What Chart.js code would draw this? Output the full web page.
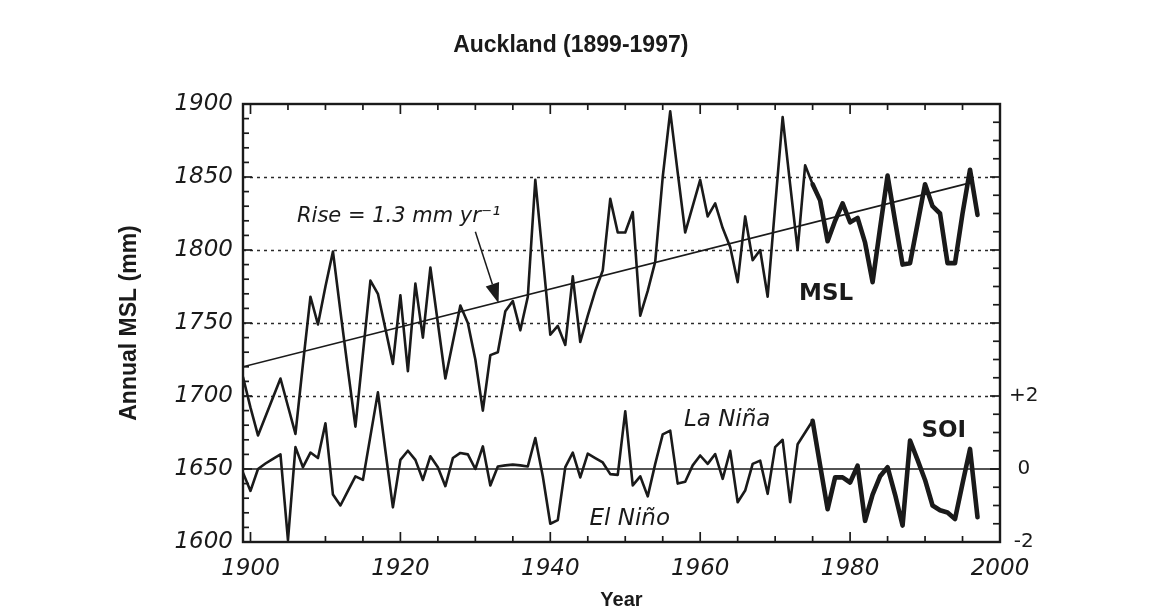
<!DOCTYPE html>
<html>
<head>
<meta charset="utf-8">
<script src="https://cdn.jsdelivr.net/npm/chart.js@4.4.1/dist/chart.umd.min.js"></script>
<style>
  html, body { margin: 0; padding: 0; background: #ffffff; }
  #wrap { width: 1175px; height: 612px; position: relative; }
</style>
</head>
<body>
<div id="wrap"><canvas id="c" width="1175" height="612"></canvas></div>
<script>
// ---------------- data ----------------
const years = [1899,1900,1901,1902,1903,1904,1905,1906,1907,1908,1909,
  1910,1911,1912,1913,1914,1915,1916,1917,1918,1919,
  1920,1921,1922,1923,1924,1925,1926,1927,1928,1929,
  1930,1931,1932,1933,1934,1935,1936,1937,1938,1939,
  1940,1941,1942,1943,1944,1945,1946,1947,1948,1949,
  1950,1951,1952,1953,1954,1955,1956,1957,1958,1959,
  1960,1961,1962,1963,1964,1965,1966,1967,1968,1969,
  1970,1971,1972,1973,1974,1975,1976,1977,1978,1979,
  1980,1981,1982,1983,1984,1985,1986,1987,1988,1989,
  1990,1991,1992,1993,1994,1995,1996,1997];

// Annual mean sea level (mm)
const mslValues = [1713,1692,1673,1686,1699,1712,1693,1674,1722,1768,1749,
  1775,1799,1758,1718,1679,1729,1779,1770,1746,1722,
  1769,1717,1777,1740,1788,1750,1712,1737,1762,1750,
  1725,1690,1728,1730,1758,1765,1745,1768,1848,1795,
  1742,1748,1735,1782,1737,1755,1772,1786,1835,1812,
  1812,1826,1755,1772,1792,1850,1895,1853,1812,1830,
  1848,1823,1832,1815,1802,1778,1823,1793,1800,1768,
  1830,1891,1845,1800,1858,1845,1834,1806,1820,1832,
  1819,1822,1805,1778,1815,1851,1820,1790,1791,1818,
  1845,1830,1825,1791,1791,1825,1855,1824];

// Southern Oscillation Index (right axis units)
const soiValues = [-0.1,-0.6,0.0,0.15,0.28,0.4,-1.95,0.6,0.05,0.45,0.3,
  1.25,-0.7,-1.0,-0.6,-0.2,-0.3,0.9,2.1,0.5,-1.05,
  0.25,0.5,0.25,-0.3,0.35,0.05,-0.47,0.3,0.44,0.4,
  0.0,0.62,-0.45,0.07,0.1,0.12,0.1,0.07,0.85,-0.2,
  -1.5,-1.4,0.05,0.45,-0.23,0.42,0.3,0.18,-0.14,-0.16,
  1.58,-0.45,-0.2,-0.75,0.14,0.95,1.05,-0.4,-0.35,0.1,
  0.37,0.14,0.41,-0.27,0.5,-0.91,-0.59,0.14,0.23,-0.68,
  0.6,0.8,-0.91,0.68,1.0,1.32,0.1,-1.1,-0.23,-0.23,
  -0.37,0.09,-1.42,-0.7,-0.2,0.05,-0.7,-1.55,0.78,0.25,
  -0.3,-1.0,-1.13,-1.19,-1.37,-0.4,0.55,-1.32];

// Linear trend (1.3 mm/yr)
const trendYears = [1899, 1996];
const trendValues = [1720, 1846];

// Tick labels
const yearTicks = [1900, 1920, 1940, 1960, 1980, 2000];
const mslTicks = [1600, 1650, 1700, 1750, 1800, 1850, 1900];
const soiTicks = [-2, 0, 2];
const mslGridLines = [1700, 1750, 1800, 1850];

const titleText = 'Auckland (1899-1997)';
const yTitle = 'Annual MSL (mm)';
const xTitle = 'Year';

// text annotations placed in data coordinates
const notes = [
  { text: 'Rise = 1.3 mm yr\u207B\u00B9', x: 1906.2, y: 1819.5, axis: 'y', font: 'italic 21px "DejaVu Sans"', align: 'left', baseline: 'alphabetic' },
  { text: 'MSL', x: 1976.8, y: 1770, axis: 'y', font: 'bold 23px "DejaVu Sans"', align: 'center', baseline: 'middle' },
  { text: 'La Ni\u00F1a', x: 1963.6, y: 1683.5, axis: 'y', font: 'italic 23px "DejaVu Sans"', align: 'center', baseline: 'middle' },
  { text: 'El Ni\u00F1o', x: 1950.6, y: 1616, axis: 'y', font: 'italic 23px "DejaVu Sans"', align: 'center', baseline: 'middle' },
  { text: 'SOI', x: 1992.5, y: 1.03, axis: 'y1', font: 'bold 23px "DejaVu Sans"', align: 'center', baseline: 'middle' }
];
const arrowTail = { x: 1930.0, y: 1812.5 };
const arrowTip = { x: 1933.1, y: 1763.5 };

// ---------------- chart ----------------
const INK = '#1a1a1a';
const mslPoints = years.map((yr, i) => ({ x: yr, y: mslValues[i] }));
const soiPoints = years.map((yr, i) => ({ x: yr, y: soiValues[i] }));
const trendPoints = trendYears.map((yr, i) => ({ x: yr, y: trendValues[i] }));

const thickFrom = 1975;
const segWidth = ctx => (ctx.p0.parsed.x >= thickFrom ? 4.6 : 2.6);

const framePlugin = {
  id: 'frame',
  beforeDatasetsDraw(chart) {
    const { ctx, chartArea: a, scales } = chart;
    const y = scales.y, y1 = scales.y1, x = scales.x;
    ctx.save();
    ctx.strokeStyle = '#2a2a2a';
    ctx.lineWidth = 1.7;
    ctx.setLineDash([3, 4]);
    mslGridLines.forEach(v => {
      const py = Math.round(y.getPixelForValue(v)) + 0.5;
      ctx.beginPath(); ctx.moveTo(a.left, py); ctx.lineTo(a.right, py); ctx.stroke();
    });
    ctx.setLineDash([]);
    // SOI zero line
    ctx.strokeStyle = INK;
    ctx.lineWidth = 1.6;
    const pz = y1.getPixelForValue(0);
    ctx.beginPath(); ctx.moveTo(a.left, pz); ctx.lineTo(a.right, pz); ctx.stroke();
    // tick marks (inward)
    ctx.lineWidth = 1.7;
    for (let v = 1600; v <= 1900; v += 10) {
      const py = y.getPixelForValue(v);
      const len = (v % 50 === 0) ? 9 : 6;
      ctx.beginPath(); ctx.moveTo(a.left, py); ctx.lineTo(a.left + len, py); ctx.stroke();
    }
    for (let s = -2; s <= 10; s += 0.5) {
      const py = y1.getPixelForValue(s);
      const len = (s % 2 === 0) ? 10 : 7;
      ctx.beginPath(); ctx.moveTo(a.right, py); ctx.lineTo(a.right - len, py); ctx.stroke();
    }
    for (let yr = 1900; yr <= 2000; yr += 5) {
      const px = x.getPixelForValue(yr);
      const len = (yr % 20 === 0) ? 10 : 6;
      ctx.beginPath(); ctx.moveTo(px, a.bottom); ctx.lineTo(px, a.bottom - len); ctx.stroke();
      ctx.beginPath(); ctx.moveTo(px, a.top); ctx.lineTo(px, a.top + len); ctx.stroke();
    }
    // frame
    ctx.lineWidth = 2.4;
    ctx.strokeRect(a.left, a.top, a.right - a.left, a.bottom - a.top);
    ctx.restore();
  },
  afterDatasetsDraw(chart) {
    const { ctx, chartArea: a, scales } = chart;
    ctx.save();
    ctx.fillStyle = INK;
    // title
    ctx.font = 'bold 23px "Liberation Sans", Arial, sans-serif';
    ctx.textAlign = 'center';
    ctx.textBaseline = 'middle';
    ctx.fillText(titleText, a.left + (a.right - a.left) * 0.433, 46);
    // notes
    notes.forEach(n => {
      ctx.font = n.font;
      ctx.textAlign = n.align;
      ctx.textBaseline = n.baseline;
      ctx.fillText(n.text, scales.x.getPixelForValue(n.x), scales[n.axis].getPixelForValue(n.y));
    });
    // arrow
    const tx = scales.x.getPixelForValue(arrowTail.x), ty = scales.y.getPixelForValue(arrowTail.y);
    const hx = scales.x.getPixelForValue(arrowTip.x), hy = scales.y.getPixelForValue(arrowTip.y);
    const ang = Math.atan2(hy - ty, hx - tx);
    const headLen = 20, headHalf = 7;
    const bx = hx - headLen * Math.cos(ang), by = hy - headLen * Math.sin(ang);
    ctx.strokeStyle = INK;
    ctx.lineWidth = 1.5;
    ctx.beginPath(); ctx.moveTo(tx, ty); ctx.lineTo(bx, by); ctx.stroke();
    ctx.beginPath();
    ctx.moveTo(hx, hy);
    ctx.lineTo(bx + headHalf * Math.sin(ang), by - headHalf * Math.cos(ang));
    ctx.lineTo(bx - headHalf * Math.sin(ang), by + headHalf * Math.cos(ang));
    ctx.closePath();
    ctx.fill();
    ctx.restore();
  }
};

new Chart(document.getElementById('c'), {
  type: 'line',
  data: {
    datasets: [
      {
        label: 'MSL', data: mslPoints, yAxisID: 'y',
        borderColor: INK, borderWidth: 2.6, pointRadius: 0, tension: 0,
        borderJoinStyle: 'round', borderCapStyle: 'round',
        segment: { borderWidth: segWidth }
      },
      {
        label: 'SOI', data: soiPoints, yAxisID: 'y1',
        borderColor: INK, borderWidth: 2.6, pointRadius: 0, tension: 0,
        borderJoinStyle: 'round', borderCapStyle: 'round',
        segment: { borderWidth: segWidth }
      },
      {
        label: 'Trend', data: trendPoints, yAxisID: 'y',
        borderColor: INK, borderWidth: 1.7, pointRadius: 0, tension: 0
      }
    ]
  },
  options: {
    responsive: false,
    animation: false,
    events: [],
    layout: { padding: { top: 104, left: 0, right: 0, bottom: 0 } },
    plugins: { legend: { display: false }, tooltip: { enabled: false }, title: { display: false } },
    scales: {
      x: {
        type: 'linear', position: 'bottom', min: 1899, max: 2000,
        grid: { display: false, drawTicks: false },
        border: { display: false },
        afterBuildTicks: s => { s.ticks = yearTicks.map(v => ({ value: v })); },
        afterFit: s => { s.height = 70; },
        ticks: {
          padding: 13, color: INK, maxRotation: 0, autoSkip: false,
          font: { family: 'DejaVu Sans', size: 23, style: 'italic' },
          callback: v => String(v)
        },
        title: {
          display: true, text: xTitle, color: INK,
          font: { family: 'Liberation Sans', size: 20, weight: 'bold' },
          padding: { top: 0, bottom: 0 }
        }
      },
      y: {
        type: 'linear', position: 'left', min: 1600, max: 1900,
        grid: { display: false, drawTicks: false },
        border: { display: false },
        afterBuildTicks: s => { s.ticks = mslTicks.map(v => ({ value: v })); },
        afterFit: s => { s.width = 243; },
        ticks: {
          padding: 10, color: INK, autoSkip: false,
          font: { family: 'DejaVu Sans', size: 23, style: 'italic' },
          callback: v => String(v)
        },
        title: {
          display: true, text: yTitle, color: INK,
          font: { family: 'Liberation Sans', size: 23, weight: 'bold' },
          padding: { top: 116, bottom: 0 }
        }
      },
      y1: {
        type: 'linear', position: 'right', min: -2, max: 10,
        grid: { display: false, drawTicks: false },
        border: { display: false },
        afterBuildTicks: s => { s.ticks = soiTicks.map(v => ({ value: v })); },
        afterFit: s => { s.width = 175; },
        ticks: {
          padding: 9, color: INK, autoSkip: false, crossAlign: 'center',
          font: { family: 'DejaVu Sans', size: 20 },
          callback: v => (v > 0 ? '+' + v : String(v))
        }
      }
    }
  },
  plugins: [framePlugin]
});
</script>
</body>
</html>
